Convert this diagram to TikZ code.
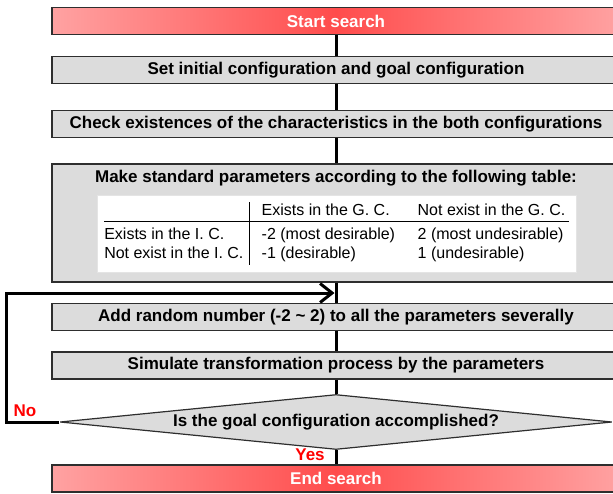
\documentclass[tikz,border=0pt]{standalone}
\usepackage{fontspec}
\setmainfont{Liberation Sans}
\usepackage{array}
\usetikzlibrary{shapes.geometric,arrows.meta}
\definecolor{boxgray}{HTML}{DCDCDC}
\definecolor{edgegray}{HTML}{2E2E2E}
\definecolor{termlight}{HTML}{FFA2A2}
\definecolor{termred}{HTML}{FF4C4C}
\definecolor{flagred}{HTML}{FF0000}
\definecolor{tableedge}{HTML}{E4E4E4}

\tikzset{
  stepbox/.style={
    draw=edgegray, line width=1.2pt, fill=boxgray,
    minimum width=568pt, minimum height=27pt, inner sep=0pt,
    font=\fontsize{17}{20}\selectfont\bfseries
  },
  termbox/.style={
    stepbox, left color=termlight, right color=termlight,
    middle color=termred, text=white
  },
  decision/.style={
    shape=diamond, aspect=10, draw=edgegray, line width=1.2pt, fill=boxgray,
    minimum width=552pt, minimum height=55pt, inner sep=0pt,
    font=\fontsize{17}{20}\selectfont\bfseries
  },
  tablebox/.style={
    fill=white, draw=tableedge, line width=0.8pt,
    minimum width=479pt, minimum height=77pt, inner sep=0pt,
    font=\fontsize{16}{19}\selectfont
  },
  trunk/.style={line width=3pt, black},
  loopline/.style={line width=3pt, black, line cap=butt,
    -{Straight Barb[length=12pt,width=19pt]}},
  flaglabel/.style={text=flagred, inner sep=0pt,
    font=\fontsize{17}{20}\selectfont\bfseries}
}

\begin{document}
\begin{tikzpicture}[x=1pt,y=-1pt]
  \useasboundingbox (0,0) rectangle (613,493);
  \clip (0,0) rectangle (613,493);

  % steps of the search
  \node[termbox] (start) at (336,21) {Start search};
  \node[stepbox] (setcfg) at (336,70) {Set initial configuration and goal configuration};
  \node[stepbox] (check) at (336,124) {Check existences of the characteristics in the both configurations};
  \node[stepbox, minimum height=118pt] (params) at (336,223) {};
  \node[font=\fontsize{17}{20}\selectfont\bfseries, inner sep=0pt] (paramtitle) at (336,178)
    {Make standard parameters according to the following table:};
  \node[tablebox] (paramtable) at (336.5,233.5) {%
    \renewcommand{\arraystretch}{1}%
    \begin{tabular}{@{}p{139pt}@{\hspace{6pt}}|@{\hspace{12pt}}p{144pt}@{\hspace{12pt}}p{151pt}@{}}
      & Exists in the G. C. & Not exist in the G. C.\\ \hline
      \rule{0pt}{18pt}Exists in the I. C. & -2 (most desirable) & 2 (most undesirable)\\
      Not exist in the I. C. & -1 (desirable) & 1 (undesirable)
    \end{tabular}%
  };
  \node[stepbox] (addrand) at (336,317) {Add random number (-2 \textasciitilde{} 2) to all the parameters severally};
  \node[stepbox] (simulate) at (336,365.5) {Simulate transformation process by the parameters};
  \node[decision] (goal) at (336,422) {Is the goal configuration accomplished?};
  \node[termbox] (finish) at (336,478.5) {End search};

  % main line
  \draw[trunk] (start) -- (setcfg);
  \draw[trunk] (setcfg) -- (check);
  \draw[trunk] (check) -- (params);
  \draw[trunk] (params) -- (addrand);
  \draw[trunk] (addrand) -- (simulate);
  \draw[trunk] (simulate) -- (goal);
  \draw[trunk] (goal) -- (finish);

  % back to the random step
  \coordinate (loopin) at (334.5,293);
  \draw[loopline] (goal.west) -- ++(-53,0) |- (loopin);
  \node[flaglabel] (nolabel) at (25,411) {No};
  \node[flaglabel] (yeslabel) at (310,455) {Yes};
\end{tikzpicture}
\end{document}
